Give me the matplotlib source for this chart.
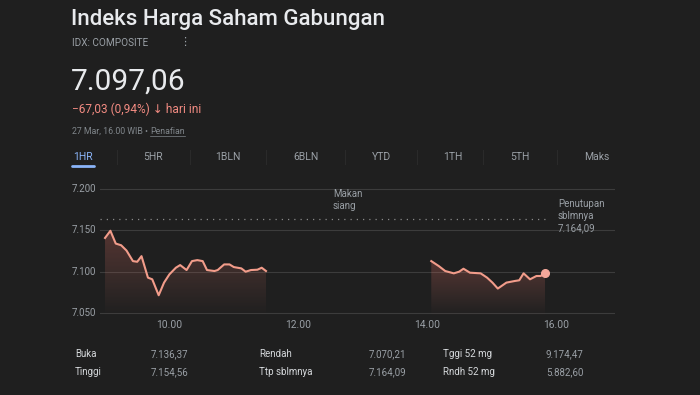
import numpy as np
import matplotlib
matplotlib.use("Agg")
import matplotlib.pyplot as plt
from matplotlib.transforms import blended_transform_factory

# data IHSG 27 Mar
sesi1_jam = ["09:00", "09:05", "09:10", "09:15", "09:20", "09:26", "09:30", "09:34", "09:40",
             "09:44", "09:50", "09:55", "10:00", "10:06", "10:10", "10:16", "10:21", "10:26",
             "10:31", "10:35", "10:42", "10:45", "10:51", "10:56", "11:00", "11:07", "11:11",
             "11:16", "11:22", "11:26", "11:30"]
sesi1_nilai = [7140.8, 7149.5, 7134.0, 7132.0, 7125.6, 7112.8, 7112.0, 7118.8, 7092.8,
               7090.8, 7071.5, 7086.8, 7096.8, 7104.8, 7108.0, 7102.0, 7112.8, 7114.0,
               7112.8, 7102.0, 7100.8, 7102.0, 7108.8, 7108.8, 7105.6, 7104.0, 7100.0,
               7102.0, 7102.4, 7104.8, 7100.8]
sesi2_jam = ["14:04", "14:11", "14:17", "14:25", "14:30", "14:34", "14:40", "14:50", "14:56",
             "15:01", "15:06", "15:14", "15:22", "15:26", "15:30", "15:36", "15:42", "15:46",
             "15:50"]
sesi2_nilai = [7112.8, 7106.8, 7100.8, 7098.0, 7100.0, 7103.6, 7098.8, 7098.0, 7092.8,
               7086.8, 7079.6, 7086.8, 7088.8, 7089.6, 7098.0, 7090.8, 7094.8, 7094.8,
               7099.0]
ytick_nilai = [7050, 7100, 7150, 7200]
ytick_label = ["7.050", "7.100", "7.150", "7.200"]
xtick_jam = [10, 12, 14, 16]
xtick_label = ["10.00", "12.00", "14.00", "16.00"]
tutup_sebelumnya = 7164.09
tab_label = ["1HR", "5HR", "1BLN", "6BLN", "YTD", "1TH", "5TH", "Maks"]
tabel_label = [["Buka", "Rendah", "Tggi 52 mg"], ["Tinggi", "Ttp sblmnya", "Rndh 52 mg"]]
tabel_nilai = [["7.136,37", "7.070,21", "9.174,47"], ["7.154,56", "7.164,09", "5.882,60"]]


def ke_jam(lst):
    return np.array([int(s[:2]) + int(s[3:]) / 60 for s in lst])


BG = "#1f1f1f"
GRID = "#3c3c3c"
GARIS = "#f29c8a"
ABU = "#9aa0a6"
PUTIH = "#e8eaed"
FONT = ["Roboto", "DejaVu Sans"]
plt.rcParams["font.family"] = FONT

W, H = 700, 395
fig = plt.figure(figsize=(7, 3.95), dpi=100, facecolor=BG)


def px(x, y):
    return x / W, 1 - y / H


# header
fig.text(*px(71, 20), "Indeks Harga Saham Gabungan", color=PUTIH, fontsize=16,
         va="center", ha="left", fontweight="medium")
fig.text(*px(72, 43), "IDX: COMPOSITE", color=ABU, fontsize=7.2, va="center")
fig.text(*px(179, 42), "⋮", color=ABU, fontsize=8, va="center", family=["DejaVu Sans"])
fig.text(*px(71, 82), "7.097,06", color=PUTIH, fontsize=21.5, va="center")
fig.text(*px(72, 109), "−67,03 (0,94%) ↓ hari ini", color="#f28b82", fontsize=8.6,
         va="center")
t = fig.text(*px(72, 131), "27 Mar, 16.00 WIB • ", color="#80868b", fontsize=6.3, va="center")
fig.canvas.draw()
bb = t.get_window_extent()
x_pen = bb.x1 / W
t2 = fig.text(x_pen, 1 - 131 / H, "Penafian", color="#80868b", fontsize=6.3, va="center")
bb2 = t2.get_window_extent(renderer=fig.canvas.get_renderer())
fig.add_artist(plt.Line2D([bb2.x0 / W, bb2.x1 / W], [1 - 135.5 / H] * 2, color="#80868b", lw=0.5))

# tab
tab_x = [83, 153, 228, 306, 381, 453, 520, 597]
for i, (lab, tx) in enumerate(zip(tab_label, tab_x)):
    fig.text(*px(tx, 157), lab, color="#8ab4f8" if i == 0 else ABU, fontsize=7.5,
             ha="center", va="center")
for sx in [117, 190, 266, 345, 417, 483, 557]:
    fig.add_artist(plt.Line2D([sx / W] * 2, [1 - 150 / H, 1 - 164 / H], color="#2a2a2a", lw=0.8))
fig.add_artist(plt.Line2D([72 / W, 94 / W], [1 - 166 / H] * 2, color="#8ab4f8", lw=2,
                          solid_capstyle="round"))

# grafik
ax = fig.add_axes([100 / W, 1 - 317 / H, 515 / W, 137 / H])
ax.set_facecolor(BG)
for s in ax.spines.values():
    s.set_visible(False)

trans = blended_transform_factory(fig.transFigure, ax.transData)
for v, lab in zip(ytick_nilai, ytick_label):
    ax.axhline(v, color=GRID, lw=0.8, zorder=1)
    ax.text(72 / W, v, lab, transform=trans, color=ABU, fontsize=7, ha="left", va="center")
ax.set_yticks([])
ax.set_xticks(xtick_jam, xtick_label)
ax.tick_params(axis="x", length=0, pad=2, labelcolor=ABU, labelsize=7.4)

ax.axhline(tutup_sebelumnya, xmax=0.874, color="#8a8a8a", lw=0.9, ls=(0, (1, 4)), zorder=1)

grad = np.linspace(0, 1, 100).reshape(-1, 1)
cmap = matplotlib.colors.LinearSegmentedColormap.from_list(
    "g", [(0.95, 0.55, 0.5, 0.0), (0.95, 0.45, 0.4, 0.26)])
for jam, nilai in [(ke_jam(sesi1_jam), sesi1_nilai), (ke_jam(sesi2_jam), sesi2_nilai)]:
    ax.plot(jam, nilai, color=GARIS, lw=1.5, zorder=3, solid_joinstyle="round")
    poly = ax.fill_between(jam, nilai, 7045.2, color="none")
    img = ax.imshow(grad, extent=(jam[0], jam[-1], 7045.2, max(nilai)), origin="lower",
                    cmap=cmap, aspect="auto", zorder=2)
    img.set_clip_path(poly.get_paths()[0], transform=ax.transData)
ax.set_xlim(8.922, 16.92)
ax.set_ylim(7045.2, 7210.9)

jam2 = ke_jam(sesi2_jam)
ax.plot(jam2[-1], sesi2_nilai[-1], "o", color="#f4a79a", ms=5.5, zorder=4)

fig.text(*px(333, 189), "Makan\nsiang", color=ABU, fontsize=7, va="top", ha="left",
         linespacing=1.25)
fig.text(*px(558, 199), "Penutupan\nsblmnya\n7.164,09", color=ABU, fontsize=7,
         va="top", ha="left", linespacing=1.25)

# tabel bawah
kol_label = [75, 259, 443]
kol_nilai = [151, 369, 546]
for r, y in enumerate([354, 372]):
    for c in range(3):
        fig.text(*px(kol_label[c], y), tabel_label[r][c], color="#d5d8db", fontsize=7,
                 va="center")
        fig.text(*px(kol_nilai[c], y), tabel_nilai[r][c], color=ABU, fontsize=7,
                 va="center")

fig.savefig("out.png", dpi=100, facecolor=BG)
